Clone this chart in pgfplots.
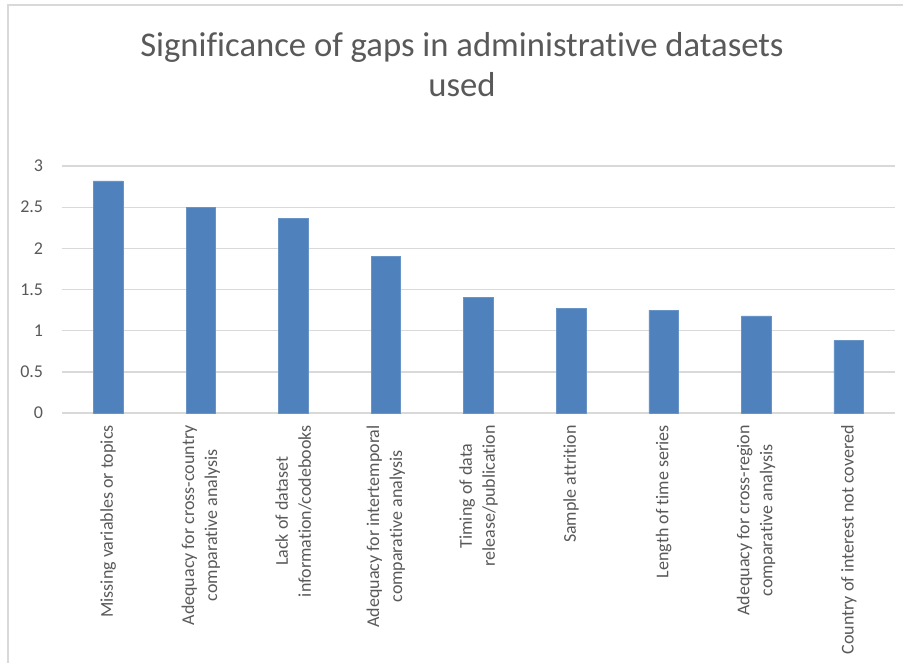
\documentclass[border=0pt]{standalone}
\usepackage{fontspec}
\setmainfont{Carlito}[Ligatures=NoCommon]
\usepackage{pgfplots}
\pgfplotsset{compat=1.18}
\definecolor{barblue}{HTML}{4F81BD}
\definecolor{gridgray}{HTML}{D9D9D9}
\definecolor{txtgray}{HTML}{595959}
\begin{document}
\begin{tikzpicture}
\path (0pt,0pt) rectangle (677.25pt,496.5pt);
\begin{scope}[overlay]
\draw[gridgray, line width=1.5pt] (6pt,-20pt) -- (6pt,492.75pt) -- (700pt,492.75pt);
\node[txtgray, font=\fontsize{26pt}{30pt}\selectfont, anchor=base, inner sep=0] at (346.5pt,454pt) {Significance of gaps in administrative datasets};
\node[txtgray, font=\fontsize{26pt}{30pt}\selectfont, anchor=base, inner sep=0] at (346.5pt,424pt) {used};
\begin{axis}[
  at={(46.5pt,186.75pt)}, anchor=south west,
  scale only axis,
  width=624.75pt, height=185.25pt,
  xmin=-0.5, xmax=8.5, ymin=0, ymax=3,
  axis line style={draw=none},
  major tick length=0pt,
  ymajorgrids, grid style={gridgray, line width=1pt},
  ytick={0,0.5,1,1.5,2,2.5,3},
  yticklabels={0,0.5,1,1.5,2,2.5,3},
  xtick=data,
  xticklabels={
    Missing variables or topics,
    {Adequacy for cross-country\\comparative analysis},
    {Lack of dataset\\information/codebooks},
    {Adequacy for intertemporal\\comparative analysis},
    {Timing of data\\release/publication},
    Sample attrition,
    Length of time series,
    {Adequacy for cross-region\\comparative analysis},
    Country of interest not covered},
  tick label style={font=\fontsize{13.5pt}{17.25pt}\selectfont, text=txtgray},
  yticklabel style={anchor=east, inner sep=0pt, xshift=-14pt},
  xticklabel style={rotate=90, anchor=east, align=center, inner sep=0pt, xshift=-9pt},
  bar width=0.32,
]
\addplot[ybar, fill=barblue, draw=barblue!85!white] coordinates {
  (0,2.82) (1,2.50) (2,2.36) (3,1.90) (4,1.40) (5,1.27) (6,1.25) (7,1.18) (8,0.88)
};
\end{axis}
\end{scope}
\end{tikzpicture}
\end{document}
